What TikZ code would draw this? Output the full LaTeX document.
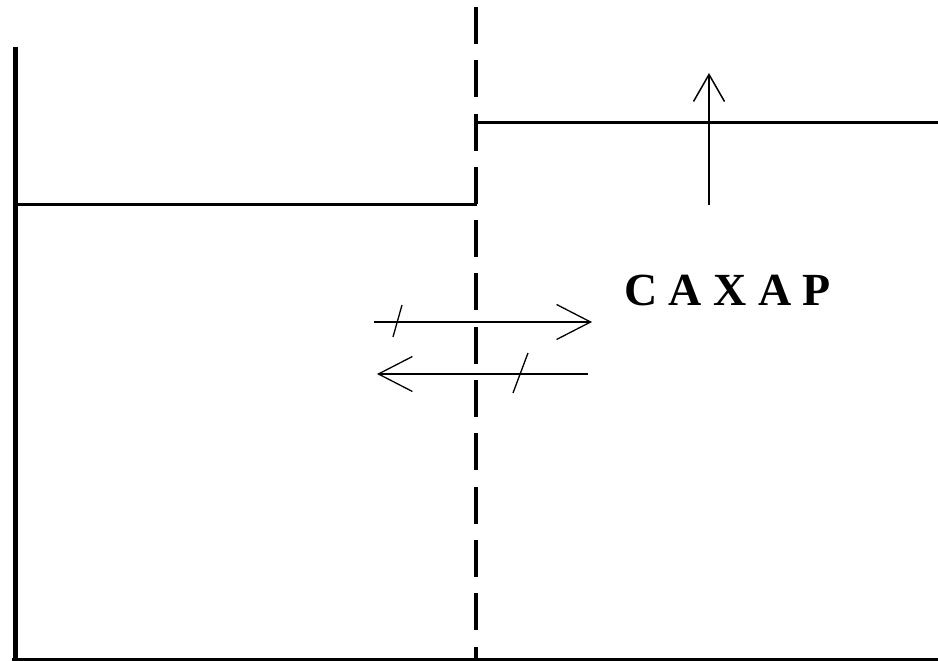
\documentclass[tikz,border=0pt]{standalone}
\usepackage{fontspec}
\setmainfont{Liberation Serif}
\usetikzlibrary{arrows.meta}
\begin{document}
\begin{tikzpicture}[x=1pt,y=1pt,
  wall/.style={line width=5pt},
  level/.style={line width=3.4pt},
  membrane/.style={line width=4pt, dash pattern=on 37pt off 16.3pt},
  flux/.style={line width=1.3pt, -{Straight Barb[length=34pt,width=35pt,line width=1.3pt]}},
  rise/.style={line width=1.5pt, -{Straight Barb[length=27pt,width=31pt,line width=1.5pt]}},
  tick/.style={line width=1.3pt},
  label/.style={font=\fontsize{46}{50}\selectfont\bfseries, inner sep=0pt, anchor=base}]
\useasboundingbox (0,0) rectangle (938,661);
% frame
\coordinate (wallTop) at (15,614);
\coordinate (wallBot) at (15,0);
\draw[wall] (wallTop) -- (wallBot);
\coordinate (floorL) at (12,1.5);
\coordinate (floorR) at (938,1.5);
\draw[line width=2.2pt] (floorL) -- (floorR);
% membrane
\coordinate (memTop) at (476,654);
\coordinate (memBot) at (476,0);
\draw[membrane] (memTop) -- (memBot);
% liquid levels
\coordinate (lvlL1) at (15,456.5);
\coordinate (lvlL2) at (477,456.5);
\draw[level] (lvlL1) -- (lvlL2);
\coordinate (lvlR1) at (476,538.5);
\coordinate (lvlR2) at (938,538.5);
\draw[line width=3pt] (lvlR1) -- (lvlR2);
% rise arrow
\coordinate (riseA) at (709,456);
\coordinate (riseB) at (709,588);
\draw[rise] (riseA) -- (riseB);
% flux arrows
\coordinate (f1a) at (374,339);
\coordinate (f1b) at (592,339);
\draw[flux] (f1a) -- (f1b);
\coordinate (f2a) at (588,287);
\coordinate (f2b) at (377,287);
\draw[flux] (f2a) -- (f2b);
% ticks
\coordinate (t1a) at (402,356);
\coordinate (t1b) at (393,324);
\draw[tick] (t1a) -- (t1b);
\coordinate (t2a) at (528,308);
\coordinate (t2b) at (513,268);
\draw[tick] (t2a) -- (t2b);
% label
\node[label] (sugar) at (727.5,355) {С А Х А Р};
\end{tikzpicture}
\end{document}
